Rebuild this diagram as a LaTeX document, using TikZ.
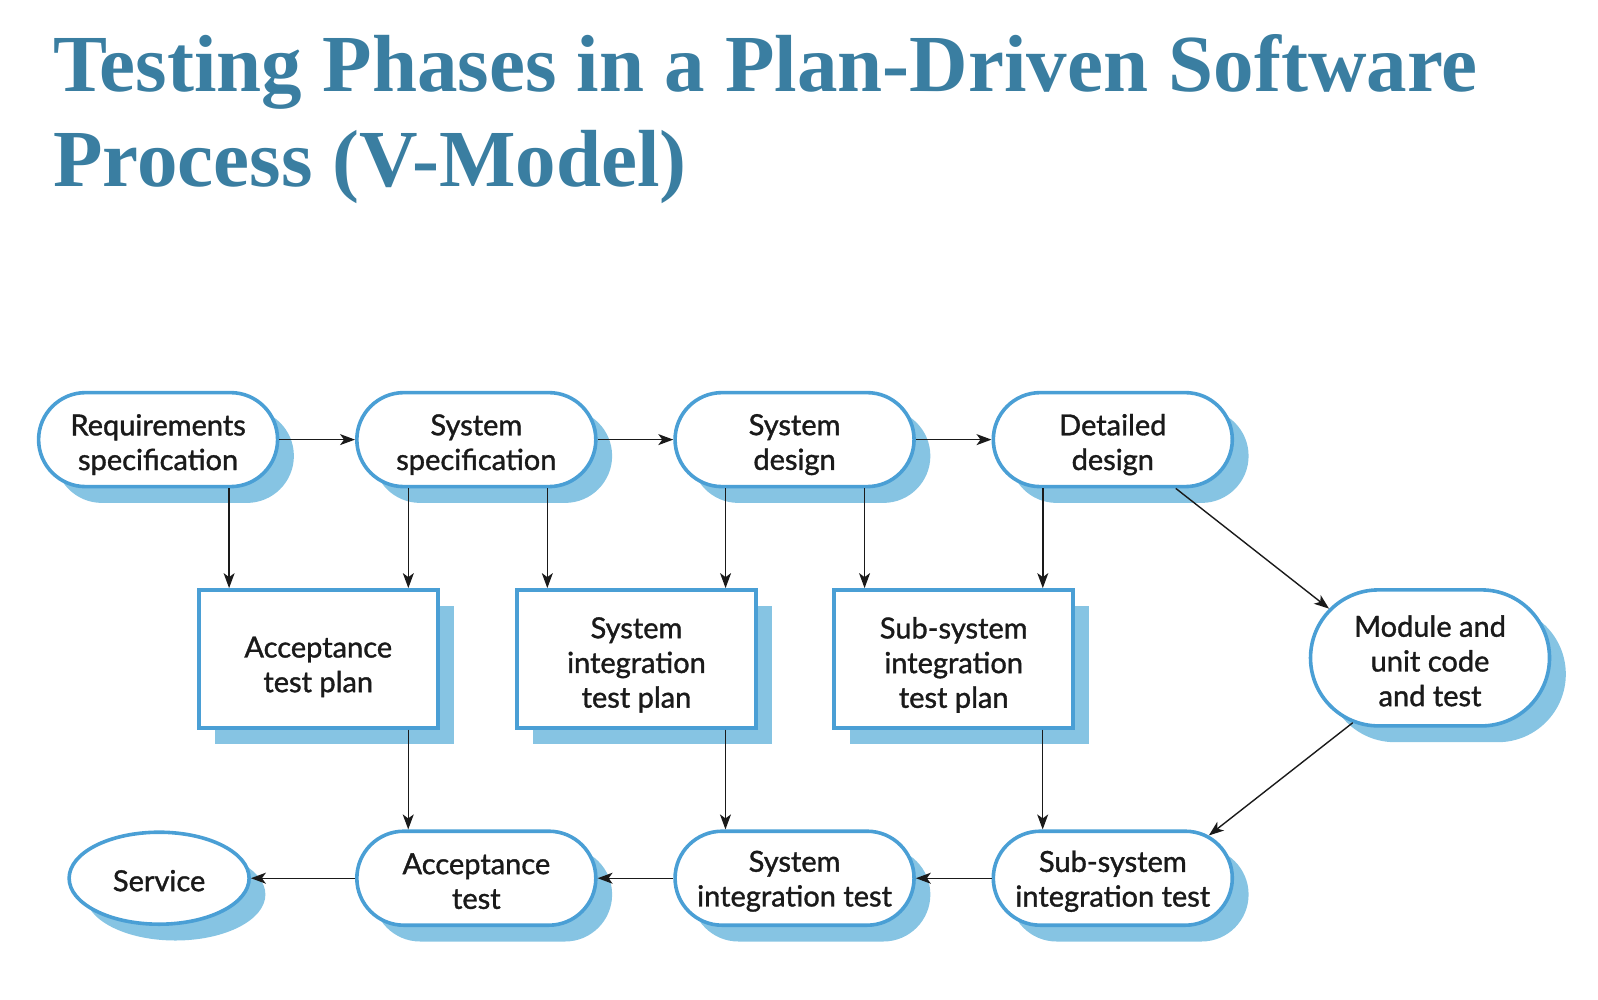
\documentclass[tikz,border=0pt]{standalone}
\usepackage{fontspec}
\setmainfont{Lato}
\newfontfamily\nodefont[FakeBold=1.2]{Lato}
\newfontfamily\titlefont{Liberation Serif}
\usetikzlibrary{shapes.misc,shapes.geometric,shadows,arrows.meta}
\definecolor{titleblue}{HTML}{3A7EA1}
\definecolor{edgeblue}{HTML}{4A9FD5}
\definecolor{shadeblue}{HTML}{86C4E3}
\definecolor{txt}{HTML}{1A1A1A}
\begin{document}
\begin{tikzpicture}[x=1.02pt,y=-1.02pt,
  base/.style={draw=edgeblue, line width=3.6pt, fill=white, inner sep=0pt,
    drop shadow={shadow xshift=16.3pt, shadow yshift=-16.3pt, fill=shadeblue, opacity=1}},
  lbl/.style={text=txt, align=center, inner sep=0pt, font=\nodefont\fontsize{29}{34.7}\selectfont},
  pill/.style={base, rounded rectangle, minimum width=239pt, minimum height=94pt},
  bigpill/.style={base, rounded rectangle, minimum width=239pt, minimum height=136pt},
  plan/.style={base, rectangle, minimum width=239pt, minimum height=138pt},
  oval/.style={base, ellipse, minimum width=180pt, minimum height=92pt},
  arr/.style={draw=txt, line width=1.4pt, -{Stealth[length=15pt,width=11pt,inset=4pt]}}]
\useasboundingbox (0,0) rectangle (1566.7,980.4);
\node[anchor=base west, text=titleblue, font=\titlefont\bfseries\fontsize{81}{95}\selectfont, align=left, inner sep=0pt] (title) at (52,183) {Testing Phases in a Plan-Driven Software\\Process (V-Model)};

\node[pill] (req) at (155,431) {};
\node[pill] (ss) at (467,431) {};
\node[pill] (sd) at (779,431) {};
\node[pill] (dd) at (1091,431) {};

\node[plan] (atp) at (312,646) {};
\node[plan] (sitp) at (624,646) {};
\node[plan] (ssitp) at (935,646) {};
\node[bigpill] (mod) at (1402,645) {};

\node[oval] (serv) at (156,861) {};
\node[pill] (at) at (467,861) {};
\node[pill] (sit) at (779,861) {};
\node[pill] (ssit) at (1091,861) {};

\node[lbl] (req-t) at ([yshift=-5pt]req.center) {Requirements\\specification};
\node[lbl] (ss-t) at ([yshift=-5pt]ss.center) {System\\specification};
\node[lbl] (sd-t) at ([yshift=-5pt]sd.center) {System\\design};
\node[lbl] (dd-t) at ([yshift=-5pt]dd.center) {Detailed\\design};

\node[lbl] (atp-t) at ([yshift=-8pt]atp.center) {Acceptance\\test plan};
\node[lbl] (sitp-t) at ([yshift=-6pt]sitp.center) {System\\integration\\test plan};
\node[lbl] (ssitp-t) at ([yshift=-6pt]ssitp.center) {Sub-system\\integration\\test plan};
\node[lbl] (mod-t) at ([yshift=-3pt]mod.center) {Module and\\unit code\\and test};

\node[lbl] (serv-t) at ([yshift=-2.5pt]serv.center) {Service};
\node[lbl] (at-t) at ([yshift=-3pt]at.center) {Acceptance\\test};
\node[lbl] (sit-t) at ([yshift=-3pt]sit.center) {System\\integration test};
\node[lbl] (ssit-t) at ([yshift=-3pt]ssit.center) {Sub-system\\integration test};

\draw[arr] (req.east) -- (ss.west);
\draw[arr] (ss.east) -- (sd.west);
\draw[arr] (sd.east) -- (dd.west);

\draw[arr] ([xshift=71pt]req.south) -- ([xshift=71pt]req.south |- atp.north);
\draw[arr] ([xshift=-68pt]ss.south) -- ([xshift=-68pt]ss.south |- atp.north);
\draw[arr] ([xshift=71pt]ss.south) -- ([xshift=71pt]ss.south |- sitp.north);
\draw[arr] ([xshift=-69pt]sd.south) -- ([xshift=-69pt]sd.south |- sitp.north);
\draw[arr] ([xshift=70pt]sd.south) -- ([xshift=70pt]sd.south |- ssitp.north);
\draw[arr] ([xshift=-70pt]dd.south) -- ([xshift=-70pt]dd.south |- ssitp.north);

\draw[arr] ([xshift=63pt]dd.south) -- (mod.154);

\draw[arr] ([xshift=90pt]atp.south) -- ([xshift=90pt]atp.south |- at.north);
\draw[arr] ([xshift=89pt]sitp.south) -- ([xshift=89pt]sitp.south |- sit.north);
\draw[arr] ([xshift=89pt]ssitp.south) -- ([xshift=89pt]ssitp.south |- ssit.north);

\draw[arr] (mod.220) -- (ssit.24);

\draw[arr] (ssit.west) -- (sit.east);
\draw[arr] (sit.west) -- (at.east);
\draw[arr] (at.west) -- (serv.east);
\end{tikzpicture}
\end{document}
